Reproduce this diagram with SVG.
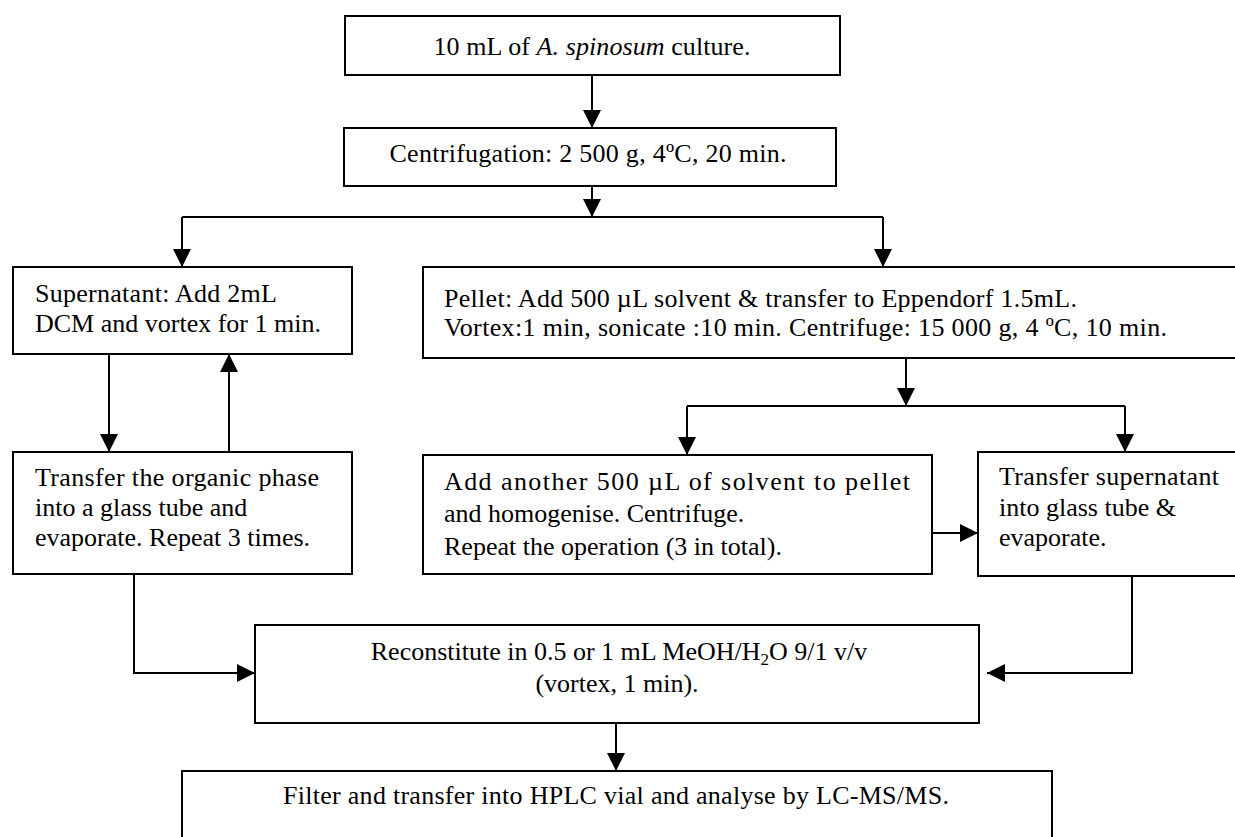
<svg xmlns="http://www.w3.org/2000/svg" width="1235" height="837" viewBox="0 0 1235 837">
<style>
.box{fill:#fff;stroke:#000;stroke-width:2}
.t{font-family:"Liberation Serif","Times New Roman",serif;font-size:26px;fill:#000}
.c{text-anchor:middle}
.ln{fill:none;stroke:#000;stroke-width:2}
</style>
<defs>
<marker id="ah" viewBox="0 0 18 18" refX="18" refY="9" markerWidth="18" markerHeight="18" markerUnits="userSpaceOnUse" orient="auto">
<path d="M0,0 L18,9 L0,18 z" fill="#000"/>
</marker>
</defs>
<rect width="1235" height="837" fill="#fff"/>
<g id="connectors">
<path class="ln" d="M592,75 V128" marker-end="url(#ah)"/>
<path class="ln" d="M592,186 V217" marker-end="url(#ah)"/>
<path class="ln" d="M182,217 H883"/>
<path class="ln" d="M182,217 V267" marker-end="url(#ah)"/>
<path class="ln" d="M883,217 V267" marker-end="url(#ah)"/>
<path class="ln" d="M109,354 V452" marker-end="url(#ah)"/>
<path class="ln" d="M229,452 V354" marker-end="url(#ah)"/>
<path class="ln" d="M906,358 V406" marker-end="url(#ah)"/>
<path class="ln" d="M687,406 H1125"/>
<path class="ln" d="M687,406 V455" marker-end="url(#ah)"/>
<path class="ln" d="M1125,406 V452" marker-end="url(#ah)"/>
<path class="ln" d="M932,533 H978" marker-end="url(#ah)"/>
<path class="ln" d="M134,574 V673 H255" marker-end="url(#ah)"/>
<path class="ln" d="M1132,576 V673 H987" marker-end="url(#ah)"/>
<path class="ln" d="M616,723 V771" marker-end="url(#ah)"/>
</g>
<g id="n1">
<rect class="box" x="345" y="16" width="495" height="59"/>
<text class="t c" x="592" y="55" textLength="317" lengthAdjust="spacing">10 mL of <tspan font-style="italic">A. spinosum</tspan> culture.</text>
</g>
<g id="n2">
<rect class="box" x="344" y="128" width="492" height="58"/>
<text class="t c" x="588" y="162" textLength="397" lengthAdjust="spacing">Centrifugation: 2 500 g, 4ºC, 20 min.</text>
</g>
<g id="n3">
<rect class="box" x="13" y="267" width="339" height="87"/>
<text class="t" x="35" y="302" textLength="242" lengthAdjust="spacing">Supernatant: Add 2mL</text>
<text class="t" x="35" y="332">DCM and vortex for 1 min.</text>
</g>
<g id="n4">
<rect class="box" x="423" y="267" width="822" height="91"/>
<text class="t" x="444" y="307" textLength="633" lengthAdjust="spacing">Pellet: Add 500 µL solvent &amp; transfer to Eppendorf 1.5mL.</text>
<text class="t" x="444" y="336" textLength="723" lengthAdjust="spacing">Vortex:1 min, sonicate :10 min. Centrifuge: 15 000 g, 4 ºC, 10 min.</text>
</g>
<g id="n5">
<rect class="box" x="13" y="452" width="339" height="122"/>
<text class="t" x="35" y="486" textLength="284" lengthAdjust="spacing">Transfer the organic phase</text>
<text class="t" x="35" y="516">into a glass tube and</text>
<text class="t" x="35" y="546">evaporate. Repeat 3 times.</text>
</g>
<g id="n6">
<rect class="box" x="423" y="455" width="509" height="119"/>
<text class="t" x="444" y="490" textLength="466" lengthAdjust="spacing">Add another 500 µL of solvent to pellet</text>
<text class="t" x="444" y="522">and homogenise. Centrifuge.</text>
<text class="t" x="444" y="555">Repeat the operation (3 in total).</text>
</g>
<g id="n7">
<rect class="box" x="978" y="452" width="267" height="124"/>
<text class="t" x="999" y="485" textLength="220" lengthAdjust="spacing">Transfer supernatant</text>
<text class="t" x="999" y="516">into glass tube &amp;</text>
<text class="t" x="999" y="546">evaporate.</text>
</g>
<g id="n8">
<rect class="box" x="255" y="625" width="724" height="98"/>
<text class="t c" x="619" y="660">Reconstitute in 0.5 or 1 mL MeOH/H<tspan font-size="17" dy="5">2</tspan><tspan dy="-5">O 9/1 v/v</tspan></text>
<text class="t c" x="617" y="692">(vortex, 1 min).</text>
</g>
<g id="n9">
<rect class="box" x="182" y="771" width="870" height="80"/>
<text class="t c" x="616" y="804" textLength="666" lengthAdjust="spacing">Filter and transfer into HPLC vial and analyse by LC-MS/MS.</text>
</g>
</svg>
